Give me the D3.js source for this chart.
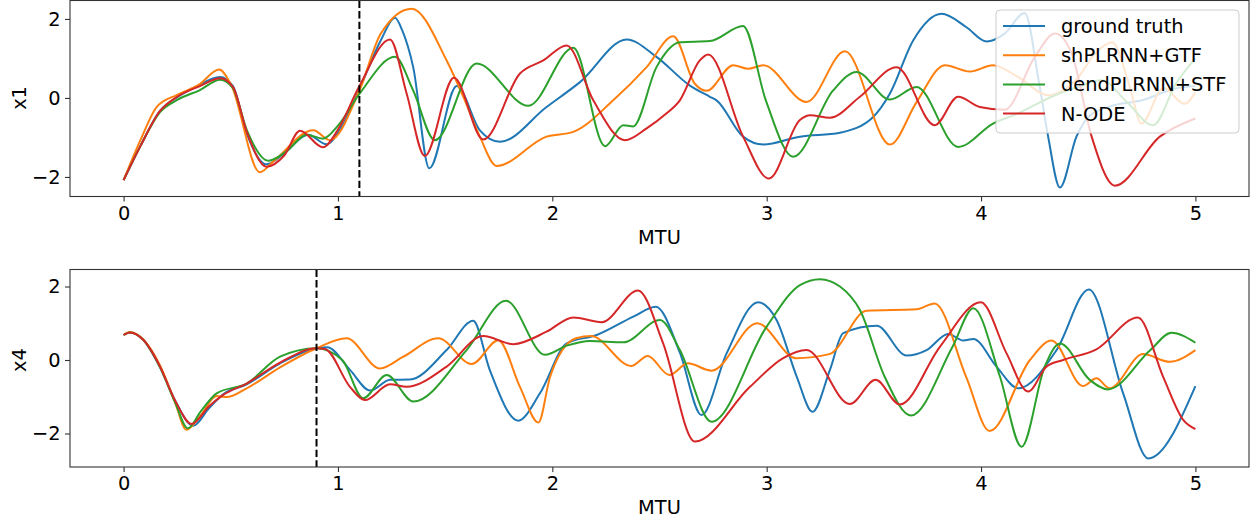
<!DOCTYPE html>
<html>
<head>
<meta charset="utf-8">
<script src="https://cdn.jsdelivr.net/npm/d3@7"></script>
<style>
  body { margin: 0; background: #fff; }
  svg { font-family: 'DejaVu Sans', sans-serif; }
</style>
</head>
<body>
<svg id="chart" width="1254" height="523"></svg>
<script>
// MTU positions / values, one array per curve
const seriesNames = ['ground truth', 'shPLRNN+GTF', 'dendPLRNN+STF', 'N-ODE'];
const seriesColors = ['#1f77b4', '#ff7f0e', '#2ca02c', '#d62728'];
const xTicks = [0, 1, 2, 3, 4, 5];
const yTicks = [-2, 0, 2];

const x1Truth = [[0, -2.08], [0.08, -1.2], [0.17, -0.33], [0.25, 0.02], [0.33, 0.26], [0.45, 0.53], [0.51, 0.3], [0.574, -0.89], [0.667, -1.68], [0.75, -1.4], [0.86, -0.93], [0.947, -1.17], [1.02, -0.7], [1.1, 0.22], [1.2, 1.46], [1.266, 2.03], [1.3, 1.71], [1.351, 0.78], [1.426, -1.78], [1.554, 0.3], [1.662, -0.82], [1.756, -1.11], [1.973, -0.23], [2.129, 0.4], [2.347, 1.48], [2.486, 1.04], [2.64, 0.32], [2.735, 0.03], [2.766, -0.06], [2.89, -0.98], [2.984, -1.18], [3.155, -0.98], [3.342, -0.88], [3.497, -0.48], [3.575, 0.11], [3.684, 1.46], [3.816, 2.13], [3.932, 1.79], [4.026, 1.43], [4.11, 1.63], [4.204, 2.15], [4.27, 0.4], [4.313, -0.98], [4.368, -2.27], [4.445, -0.98], [4.507, -0.45], [4.6, -0.22], [4.75, -0.06], [4.909, 0.24], [5.0, 0.3]];
const x1Sh = [[0, -2.08], [0.08, -1.05], [0.154, -0.23], [0.25, 0.08], [0.35, 0.33], [0.446, 0.72], [0.5, 0.35], [0.636, -1.88], [0.7, -1.6], [0.885, -0.82], [0.963, -1.07], [1.1, 0.19], [1.2, 1.63], [1.344, 2.26], [1.507, 0.95], [1.585, 0.03], [1.662, -0.98], [1.74, -1.72], [1.973, -0.98], [2.098, -0.86], [2.284, -0.06], [2.44, 0.78], [2.564, 1.56], [2.665, 0.36], [2.72, 0.18], [2.844, 0.83], [2.914, 0.74], [2.984, 0.83], [3.186, -0.1], [3.365, 1.18], [3.575, -1.18], [3.7, -0.1], [3.831, 0.83], [3.948, 0.67], [4.056, 0.83], [4.173, 0.53], [4.313, 0.07], [4.45, 0.5], [4.531, 1.12], [4.612, 1.41], [4.694, 0.28], [4.748, -0.65], [4.85, 0.25], [4.95, -0.15], [5.0, 0.15]];
const x1Dend = [[0, -2.08], [0.08, -1.2], [0.17, -0.36], [0.25, -0.05], [0.356, 0.2], [0.45, 0.46], [0.51, 0.25], [0.574, -0.8], [0.675, -1.59], [0.76, -1.35], [0.854, -0.93], [0.93, -1.03], [1.0, -0.7], [1.1, 0.1], [1.266, 1.04], [1.351, 0.19], [1.452, -1.07], [1.647, 0.87], [1.888, -0.2], [2.098, 1.27], [2.246, -1.22], [2.331, -0.69], [2.377, -0.72], [2.486, 0.78], [2.595, 1.41], [2.735, 1.44], [2.89, 1.82], [2.996, -0.06], [3.124, -1.49], [3.31, 0.19], [3.419, 0.66], [3.575, -0.04], [3.699, 0.28], [3.893, -1.24], [4.056, -0.65], [4.173, -0.39], [4.329, 0.03], [4.453, 0.28], [4.56, 0.45], [4.68, -0.1], [4.803, -0.69], [4.909, 0.36], [5.0, 1.0]];
const x1Node = [[0, -2.08], [0.08, -1.2], [0.17, -0.33], [0.25, 0.03], [0.356, 0.3], [0.45, 0.5], [0.51, 0.28], [0.574, -0.85], [0.667, -1.74], [0.75, -1.45], [0.823, -0.83], [0.93, -1.25], [1.0, -0.8], [1.1, 0.3], [1.243, 1.48], [1.32, 0.12], [1.405, -1.47], [1.541, 0.51], [1.678, -1.05], [1.849, 0.62], [1.958, 0.95], [2.067, 1.33], [2.191, -0.06], [2.339, -1.07], [2.44, -0.77], [2.533, -0.39], [2.595, -0.06], [2.688, 0.95], [2.727, 1.1], [2.89, -0.98], [3.01, -2.04], [3.155, -0.56], [3.202, -0.44], [3.295, -0.5], [3.435, 0.03], [3.606, 0.78], [3.784, -0.69], [3.893, 0.03], [3.994, -0.23], [4.11, -0.3], [4.251, 1.04], [4.345, 1.63], [4.423, 1.12], [4.516, -0.98], [4.624, -2.22], [4.834, -0.98], [5.0, -0.52]];

const x4Truth = [[0, 0.68], [0.03, 0.75], [0.092, 0.54], [0.17, -0.2], [0.24, -1.1], [0.325, -1.79], [0.4, -1.3], [0.465, -0.93], [0.574, -0.66], [0.73, -0.09], [0.9, 0.32], [0.95, 0.35], [1.056, -0.27], [1.15, -0.83], [1.243, -0.54], [1.336, -0.53], [1.507, 0.27], [1.631, 1.07], [1.708, -0.27], [1.841, -1.65], [1.943, -0.9], [2.067, 0.45], [2.207, 0.68], [2.378, 1.18], [2.483, 1.45], [2.595, 0.2], [2.696, -1.5], [2.813, 0.18], [2.96, 1.57], [3.046, 1.09], [3.14, -0.45], [3.214, -1.41], [3.295, -0.27], [3.357, 0.73], [3.513, 0.93], [3.653, 0.12], [3.746, 0.27], [3.847, 0.71], [3.917, 0.53], [3.964, 0.57], [4.072, -0.18], [4.173, -0.77], [4.352, 0.27], [4.503, 1.92], [4.663, -0.91], [4.78, -2.68], [5.0, -0.71]];
const x4Sh = [[0, 0.68], [0.03, 0.76], [0.092, 0.55], [0.17, -0.15], [0.24, -1.15], [0.293, -1.9], [0.36, -1.5], [0.434, -0.98], [0.48, -1.01], [0.574, -0.77], [0.73, -0.2], [0.9, 0.32], [1.04, 0.59], [1.196, -0.23], [1.305, 0.09], [1.468, 0.59], [1.624, -0.11], [1.748, 0.54], [1.849, -0.73], [1.935, -1.7], [1.99, -0.45], [2.111, 0.59], [2.181, 0.65], [2.368, -0.16], [2.445, 0.11], [2.546, -0.41], [2.632, -0.09], [2.743, -0.29], [2.956, 1.0], [3.137, 0.05], [3.292, 0.16], [3.466, 1.34], [3.699, 1.38], [3.784, 1.54], [3.93, -0.45], [4.04, -1.93], [4.228, 0.0], [4.329, 0.53], [4.476, -0.71], [4.538, -0.5], [4.6, -0.77], [4.756, 0.16], [4.88, -0.05], [5.0, 0.27]];
const x4Dend = [[0, 0.68], [0.03, 0.75], [0.092, 0.55], [0.17, -0.2], [0.24, -1.15], [0.3, -1.86], [0.36, -1.4], [0.434, -0.91], [0.574, -0.64], [0.73, 0.09], [0.9, 0.32], [1.02, 0.0], [1.118, -1.04], [1.227, -0.41], [1.351, -1.13], [1.6, 0.27], [1.784, 1.61], [1.966, 0.14], [2.067, 0.39], [2.176, 0.52], [2.331, 0.48], [2.502, 1.09], [2.595, 0.27], [2.743, -1.68], [3.0, 0.91], [3.155, 2.04], [3.249, 2.2], [3.342, 2.0], [3.435, 1.36], [3.55, -0.45], [3.673, -1.51], [3.867, 0.36], [3.964, 1.41], [4.088, -0.45], [4.189, -2.36], [4.297, -0.18], [4.368, 0.45], [4.507, -0.54], [4.592, -0.8], [4.79, 0.27], [4.888, 0.74], [5.0, 0.47]];
const x4Node = [[0, 0.68], [0.03, 0.75], [0.092, 0.55], [0.17, -0.18], [0.24, -1.1], [0.318, -1.74], [0.4, -1.25], [0.465, -0.95], [0.574, -0.64], [0.73, -0.07], [0.9, 0.32], [0.94, 0.3], [1.056, -0.73], [1.126, -1.09], [1.243, -0.66], [1.32, -0.73], [1.507, -0.18], [1.678, 0.65], [1.818, 0.43], [1.973, 0.77], [2.098, 1.16], [2.23, 1.03], [2.4, 1.89], [2.517, 0.45], [2.665, -2.22], [2.922, -0.73], [3.077, 0.05], [3.186, 0.27], [3.388, -1.2], [3.508, -0.54], [3.621, -1.21], [3.808, 0.36], [3.999, 1.57], [4.119, 0.18], [4.22, -0.86], [4.305, -0.18], [4.383, 0.0], [4.538, 0.29], [4.732, 1.16], [4.849, -0.45], [4.943, -1.63], [5.0, -1.88]];

const svg = d3.select('#chart');
const fontSize = 19.4;

const x = d3.scaleLinear().domain([-0.25, 5.25]).range([70, 1249]);

const panels = [
  { label: 'x1', series: [x1Truth, x1Sh, x1Dend, x1Node], cut: 1.1, yDomain: [-2.495, 2.467], top: 0.5, bottom: 196.5, legend: true },
  { label: 'x4', series: [x4Truth, x4Sh, x4Dend, x4Node], cut: 0.9, yDomain: [-2.912, 2.463], top: 269.5, bottom: 467, legend: false },
];

panels.forEach((p) => {
  const y = d3.scaleLinear().domain(p.yDomain).range([p.bottom, p.top]);
  const g = svg.append('g');

  const line = d3.line()
    .x((d) => x(d[0]))
    .y((d) => y(d[1]))
    .curve(d3.curveMonotoneX);

  p.series.forEach((s, i) => {
    g.append('path')
      .attr('d', line(s))
      .attr('fill', 'none')
      .attr('stroke', seriesColors[i])
      .attr('stroke-width', 2);
  });

  // split between context and free-running prediction
  g.append('line')
    .attr('x1', x(p.cut)).attr('x2', x(p.cut))
    .attr('y1', p.top).attr('y2', p.bottom)
    .attr('stroke', '#000')
    .attr('stroke-width', 2)
    .attr('stroke-dasharray', '7.4,3.2');

  const xAxis = (a) => {
    a.attr('transform', `translate(0,${p.bottom})`)
      .call(d3.axisBottom(x).tickValues(xTicks).tickSize(5).tickSizeOuter(0).tickPadding(4.5).tickFormat(d3.format('d')));
  };
  const yAxis = (a) => {
    a.attr('transform', 'translate(70,0)')
      .call(d3.axisLeft(y).tickValues(yTicks).tickSize(5).tickSizeOuter(0).tickPadding(4.5).tickFormat((d) => (d < 0 ? '\u2212' + Math.abs(d) : d)));
  };
  [g.append('g').call(xAxis), g.append('g').call(yAxis)].forEach((a) => {
    a.selectAll('.domain').remove();
    a.selectAll('.tick line').attr('stroke', '#333').attr('stroke-width', 1.1);
    a.selectAll('.tick text').attr('fill', '#000').style('font-size', `${fontSize}px`).style('font-family', 'DejaVu Sans');
  });

  g.append('rect')
    .attr('x', 70).attr('y', p.top)
    .attr('width', 1249 - 70).attr('height', p.bottom - p.top)
    .attr('fill', 'none')
    .attr('stroke', '#333')
    .attr('stroke-width', 1.1);

  g.append('text')
    .attr('x', (70 + 1249) / 2)
    .attr('y', p.bottom + 47)
    .attr('text-anchor', 'middle')
    .style('font-size', `${fontSize}px`)
    .text('MTU');

  g.append('text')
    .attr('transform', `translate(26,${y(0)}) rotate(-90)`)
    .attr('text-anchor', 'middle')
    .style('font-size', `${fontSize}px`)
    .text(p.label);

  if (p.legend) {
    const lg = g.append('g').attr('transform', 'translate(996,10)');
    lg.append('rect')
      .attr('width', 243).attr('height', 123)
      .attr('rx', 4)
      .attr('fill', '#fff').attr('fill-opacity', 0.8)
      .attr('stroke', '#ccc').attr('stroke-width', 1);
    seriesNames.forEach((name, i) => {
      const cy = 16 + i * 29.2;
      lg.append('line')
        .attr('x1', 7).attr('x2', 49)
        .attr('y1', cy).attr('y2', cy)
        .attr('stroke', seriesColors[i])
        .attr('stroke-width', 2);
      lg.append('text')
        .attr('x', 65).attr('y', cy + 7)
        .style('font-size', `${fontSize}px`)
        .text(name);
    });
  }
});
</script>
</body>
</html>
